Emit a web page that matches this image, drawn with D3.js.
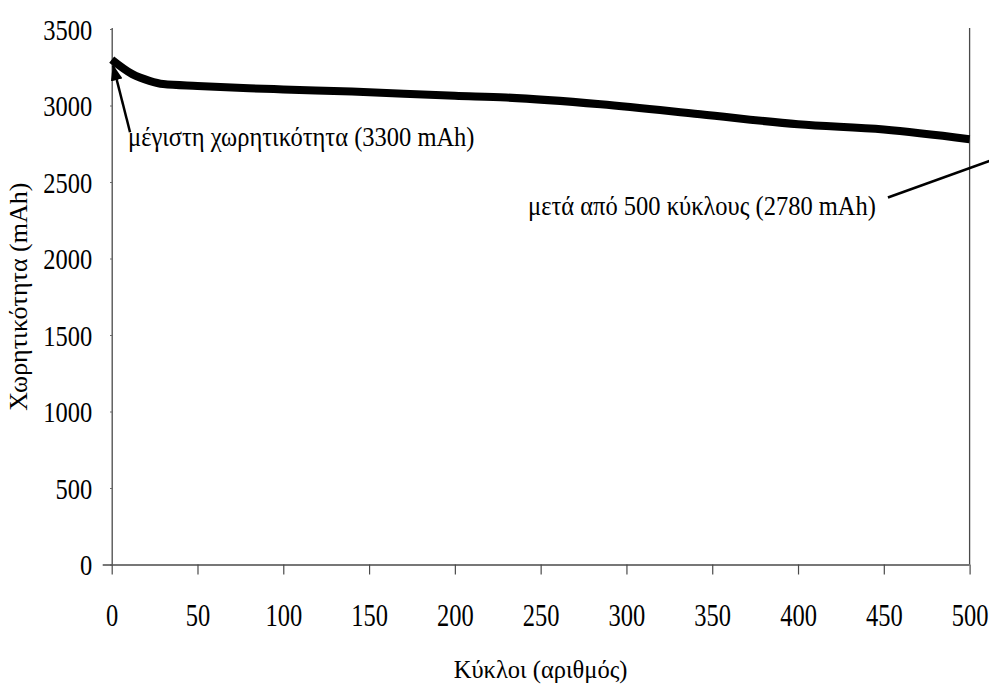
<!DOCTYPE html>
<html>
<head>
<meta charset="utf-8">
<script src="https://cdn.jsdelivr.net/npm/d3@7"></script>
<style>
  html, body { margin: 0; padding: 0; background: #fff; }
  svg { display: block; }
</style>
</head>
<body>
<svg id="chart" width="989" height="689"></svg>
<script>
// ---- data ----
const cycles   = [0, 12, 22, 30, 50, 80, 100, 140, 200, 230, 285, 343, 400, 450, 500];
const capacity = [3300, 3205, 3161, 3140, 3128, 3113, 3105, 3091, 3063, 3052, 3008, 2943, 2877, 2843, 2780];
const xTicks = [0, 50, 100, 150, 200, 250, 300, 350, 400, 450, 500];
const yTicks = [0, 500, 1000, 1500, 2000, 2500, 3000, 3500];
const xTitle = "Κύκλοι (αριθμός)";
const yTitle = "Χωρητικότητα (mAh)";
const noteMax = "μέγιστη χωρητικότητα (3300 mAh)";
const noteEnd = "μετά από 500 κύκλους (2780 mAh)";
// annotation anchors in data units [cycle, mAh]
const noteMaxText = [9.5, 2735];
const noteMaxArrow = [[10.7, 2825], [0.8, 3262]];
const noteEndText = [445.4, 2287];
const noteEndLine = [[452.4, 2399], [520, 2672]];

// ---- layout ----
const svg = d3.select("#chart");
const x = d3.scaleLinear().domain([0, 500]).range([111.7, 969.6]);
const y = d3.scaleLinear().domain([0, 3500]).range([564.5, 29]);
const axisColor = "#4a4a4a";
const FONT = '"Liberation Serif", "Times New Roman", Times, serif';
const FS = 24.5;

function styleText(sel) {
  return sel.style("font-family", FONT).style("font-size", FS + "px").style("fill", "#000");
}

// y axis
const yAxis = svg.append("g").attr("transform", `translate(${x(0)},0)`)
  .call(d3.axisLeft(y).tickValues(yTicks).tickFormat(d3.format("d")).tickSize(1.5).tickPadding(18));
yAxis.select(".domain").attr("stroke", axisColor).attr("stroke-width", 1.3)
  .attr("d", `M0.5,${y(0)}V${y(3500) - 1}`);
yAxis.selectAll(".tick line").attr("stroke", axisColor);
styleText(yAxis.selectAll(".tick text"))
  .attr("x", null).attr("y", null).attr("dy", null)
  .attr("transform", "translate(-19.5,10) scale(1,1.17)");

// x axis
const xAxis = svg.append("g").attr("transform", `translate(0,${y(0)})`)
  .call(d3.axisBottom(x).tickValues(xTicks).tickFormat(d3.format("d")).tickSize(10).tickPadding(24));
xAxis.select(".domain").attr("stroke", axisColor).attr("stroke-width", 1.3)
  .attr("d", `M${x(0) - 9},0.5H${x(500)}`);
xAxis.selectAll(".tick line").attr("stroke", axisColor).attr("stroke-width", 1.2);
styleText(xAxis.selectAll(".tick text"))
  .attr("y", null).attr("dy", null)
  .attr("transform", "translate(0,61) scale(1,1.31)");

// right border
svg.append("line")
  .attr("x1", x(500)).attr("x2", x(500))
  .attr("y1", y(3500) - 1).attr("y2", y(0))
  .attr("stroke", axisColor).attr("stroke-width", 1.3);

// data line
const line = d3.line()
  .x((d, i) => x(cycles[i]))
  .y(d => y(d))
  .curve(d3.curveMonotoneX);
svg.append("path")
  .datum(capacity)
  .attr("d", line)
  .attr("fill", "none")
  .attr("stroke", "#000")
  .attr("stroke-width", 8)
  .attr("stroke-linejoin", "round");

// axis titles
styleText(svg.append("text"))
  .attr("transform", `translate(${(x(0) + x(500)) / 2},678) scale(1,1.02)`)
  .attr("text-anchor", "middle")
  .text(xTitle);
styleText(svg.append("text"))
  .attr("transform", `translate(27,${(y(0) + y(3500)) / 2}) rotate(-90) scale(1.06,1)`)
  .attr("text-anchor", "middle")
  .text(yTitle);

// arrow marker
svg.append("defs").append("marker")
  .attr("id", "arrow").attr("viewBox", "0 0 16 12")
  .attr("refX", 15).attr("refY", 6)
  .attr("markerWidth", 16).attr("markerHeight", 12)
  .attr("markerUnits", "userSpaceOnUse")
  .attr("orient", "auto")
  .append("path").attr("d", "M0,0L16,6L0,12Z").attr("fill", "#000");

// annotation 1
svg.append("line")
  .attr("x1", x(noteMaxArrow[0][0])).attr("y1", y(noteMaxArrow[0][1]))
  .attr("x2", x(noteMaxArrow[1][0])).attr("y2", y(noteMaxArrow[1][1]))
  .attr("stroke", "#000").attr("stroke-width", 2.5)
  .attr("marker-end", "url(#arrow)");
styleText(svg.append("text"))
  .attr("transform", `translate(${x(noteMaxText[0])},${y(noteMaxText[1])}) scale(1,1.13)`)
  .text(noteMax);

// annotation 2
styleText(svg.append("text"))
  .attr("transform", `translate(${x(noteEndText[0])},${y(noteEndText[1])}) scale(1,1.13)`)
  .attr("text-anchor", "end")
  .text(noteEnd);
svg.append("line")
  .attr("x1", x(noteEndLine[0][0])).attr("y1", y(noteEndLine[0][1]))
  .attr("x2", x(noteEndLine[1][0])).attr("y2", y(noteEndLine[1][1]))
  .attr("stroke", "#000").attr("stroke-width", 2.5);
</script>
</body>
</html>
